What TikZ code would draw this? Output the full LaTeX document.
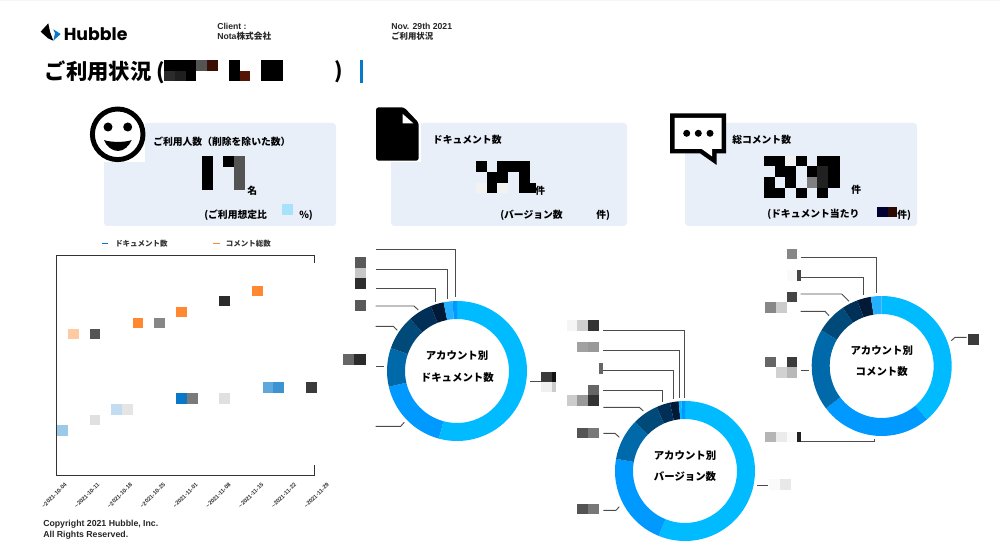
\documentclass[tikz,border=0pt]{standalone}
\usepackage{fontspec}
\setmainfont{Liberation Sans}
\newfontfamily\jpfont{Noto Sans CJK JP}
\newfontfamily\logofont{Poppins}
\usepackage{tikz}

\definecolor{cardblue}{HTML}{E8EFF9}
\definecolor{barblue}{HTML}{0A78C8}
\definecolor{ringa}{HTML}{00BBFF}
\definecolor{ringb}{HTML}{0099FF}
\definecolor{ringc}{HTML}{0069AA}
\definecolor{ringd}{HTML}{004A7A}
\definecolor{ringe}{HTML}{003058}
\definecolor{ringf}{HTML}{001A38}
\definecolor{ringg}{HTML}{22B0FF}
\definecolor{commorange}{HTML}{FF8830}
\definecolor{darkred}{HTML}{551505}

\tikzset{
	jptext/.style={font=\jpfont\bfseries\fontsize{7.35}{8}\selectfont, anchor=west, inner sep=0pt},
	latintext/.style={font=\bfseries\fontsize{6.5}{7}\selectfont, anchor=west, inner sep=0pt, text=black!85},
	ringtext/.style={font=\jpfont\bfseries\fontsize{7.8}{8}\selectfont, inner sep=0pt},
	legendtext/.style={font=\jpfont\bfseries\fontsize{5.6}{6}\selectfont, anchor=west, inner sep=0pt, text=black!80},
	datetext/.style={font=\bfseries\fontsize{4.3}{5}\selectfont, rotate=45, inner sep=0pt, text=black!80},
	leader/.style={draw=black!70, line width=0.7pt},
}

% x0 y0 x1 y1 colour
\newcommand{\mosaic}[5]{\fill[#5] (#1,#2) rectangle (#3,#4);}
% centre x, centre y, from, to (degrees from the top, clockwise), colour
\newcommand{\ringseg}[5]{
	\begin{scope}[shift={(#1,#2)}]
		\fill[#5] ({#3-90}:70) arc[start angle=#3-90, end angle=#4-90, radius=70]
			-- ({#4-90}:52) arc[start angle=#4-90, end angle=#3-90, radius=52] -- cycle;
	\end{scope}
}

\begin{document}
\begin{tikzpicture}[x=0.75pt, y=-0.75pt]
		
		\useasboundingbox (0,0) rectangle (1000,559);
		\fill[black!4] (0,0) rectangle (1000,1.5);
		
		%%% header
		\fill (40.7,31.7) -- (48.3,23.3) -- (50,31.7) -- (53.3,40.7) -- (48,38.3) -- cycle;
		\fill[barblue] (53.3,29.3) -- (60.7,34) -- (53.3,40.7) -- (55,33.3) -- cycle;
		\node[font=\logofont\bfseries\fontsize{13}{16}\selectfont, anchor=west, inner sep=0pt] (logotext) at (63.5,34) {Hubble};
		\node[latintext] (clientlabel) at (217,26.5) {Client :};
		\node[latintext] (clientname) at (217,36.5) {Nota{\jpfont\bfseries 株式会社}};
		\node[latintext] (datelabel) at (391,26.5) {Nov. 29th 2021};
		\node[latintext, font=\jpfont\bfseries\fontsize{6.3}{7}\selectfont] (datename) at (391,36.5) {ご利用状況};
		
		%%% title
		\node[jptext, font=\jpfont\bfseries\fontsize{16}{18}\selectfont] (pagetitle) at (44.5,72) {ご利用状況 (};
		\mosaic{164}{60}{196}{71}{black}
		\mosaic{196}{60}{207}{71}{black!67}
		\mosaic{207}{60}{218}{71}{darkred!70!black}
		\mosaic{164}{71}{175}{81}{black!83}
		\mosaic{175}{71}{185.5}{81}{black!88}
		\mosaic{185.5}{71}{196}{81}{black}
		\mosaic{229}{60}{239.5}{81}{black}
		\mosaic{239.5}{71}{250}{81}{darkred}
		\mosaic{261}{60}{283}{81}{black}
		\node[jptext, font=\jpfont\bfseries\fontsize{16}{18}\selectfont] (titleend) at (334,72) {)};
		\fill[barblue] (360,60) rectangle (362.5,83);
		
		%%% cards
		\fill[cardblue, rounded corners=2.5pt] (104,123) rectangle (336,226);
		\fill[cardblue, rounded corners=2.5pt] (391,123) rectangle (627,226);
		\fill[cardblue, rounded corners=2.5pt] (685,123) rectangle (917,226);
		
		%%% users
		\fill[white] (90,107) rectangle (145,162);
		\draw[line width=3.7pt] (117.7,134.3) circle (25.3);
		\fill (108,127) circle (4.5);
		\fill (127.7,127) circle (4.5);
		\fill (104,140) .. controls (110,142.5) and (126,142.5) .. (131.7,140)
			.. controls (129,146) and (124,151) .. (118,151)
			.. controls (112,151) and (106,146) .. (104,140);
		\node[jptext] (usertitle) at (153,142) {ご利用人数（削除を除いた数）};
		\mosaic{202}{156}{213}{190}{black}
		\mosaic{223}{156}{234}{167}{black}
		\mosaic{234}{156}{245}{190}{black!67}
		\node[jptext] (userunit) at (247,190.5) {名};
		\node[jptext] (userrate) at (204,215) {(ご利用想定比};
		\mosaic{282}{204}{293}{215}{cyan!35}
		\node[jptext] (userpercent) at (299,215) {\%)};
		
		%%% documents
		\fill[white] (376,107) rectangle (421,162);
		\fill[rounded corners=2pt] (404,107.3) -- (418.7,122.7) -- (418.7,160.7) -- (376,160.7) -- (376,107.3) -- cycle;
		\fill[white] (402.7,114) -- (413.3,123.3) -- (402.7,123.3) -- cycle;
		\node[jptext] (doctitle) at (432.7,140) {ドキュメント数};
		\mosaic{476}{161}{486.7}{171.7}{black}
		\mosaic{497.3}{161}{530}{171.7}{black}
		\mosaic{486.7}{171.7}{508}{182.7}{black}
		\mosaic{519.3}{171.7}{530}{182.7}{black}
		\mosaic{476}{182.7}{486.7}{193.3}{black!5}
		\mosaic{486.7}{182.7}{497.3}{193.3}{black}
		\mosaic{497.3}{182.7}{508}{193.3}{black!5}
		\mosaic{519.3}{182.7}{536}{193.3}{black}
		\node[jptext] (docunit) at (535,190.5) {件};
		\node[jptext] (docversion) at (500,215.5) {(バージョン数};
		\node[jptext] (docversionend) at (596,215.5) {件)};
		
		%%% comments
		\fill (670,113.3) -- (726,113.3) -- (726,153.3) -- (716.7,153.3) -- (716.7,165) -- (700,153.3) -- (670,153.3) -- cycle;
		\fill[white] (674.5,117.8) -- (721.5,117.8) -- (721.5,148.8) -- (712.2,148.8) -- (712.2,156.5) -- (701.5,148.8) -- (674.5,148.8) -- cycle;
		\fill (686.7,133.3) circle (3.5);
		\fill (698.3,133.3) circle (3.5);
		\fill (710,133.3) circle (3.5);
		\node[jptext] (commtitle) at (732,140) {総コメント数};
		\mosaic{764}{155.7}{785.3}{166}{black}
		\mosaic{785.3}{155.7}{796}{166}{black!5}
		\mosaic{796}{155.7}{806.7}{166}{black}
		\mosaic{817.3}{155.7}{840}{166}{black}
		\mosaic{774.7}{166}{796}{176.7}{black}
		\mosaic{806.7}{166}{817.3}{176.7}{black}
		\mosaic{817.3}{166}{828.3}{176.7}{black!87}
		\mosaic{828.3}{166}{840}{176.7}{black}
		\mosaic{764}{176.7}{774.7}{187.7}{black}
		\mosaic{785.3}{176.7}{796}{187.7}{black}
		\mosaic{806.7}{176.7}{817.3}{187.7}{black!50}
		\mosaic{817.3}{176.7}{828.3}{187.7}{black!87}
		\mosaic{828.3}{176.7}{840}{187.7}{black}
		\mosaic{764}{187.7}{785.3}{198.3}{black}
		\mosaic{796}{187.7}{806.7}{198.3}{black}
		\mosaic{817.3}{187.7}{828.3}{198.3}{black}
		\node[jptext] (communit) at (851,190) {件};
		\node[jptext] (commrate) at (767,214.5) {(ドキュメント当たり};
		\mosaic{877}{206.7}{888}{217}{blue!20!black}
		\mosaic{888}{206.7}{897}{217}{darkred!50!black}
		\node[jptext] (commrateend) at (897,215) {件)};
		
		%%% legend
		\fill[barblue] (101.7,243) rectangle (108,244.5);
		\node[legendtext] (legenddoc) at (115,243.7) {ドキュメント数};
		\fill[commorange] (213.3,243) rectangle (220,244.5);
		\node[legendtext] (legendcomm) at (225.7,243.7) {コメント総数};
		
		%%% chart
		\draw[black!80, line width=0.75pt] (314,263) -- (314,256) -- (56.7,256) -- (56.7,475.7) -- (314,475.7) -- (314,465);
		\mosaic{68}{328.7}{79}{338.7}{commorange!45}
		\mosaic{90}{328.7}{100.3}{338.7}{black!67}
		\mosaic{133}{317.7}{143.3}{328.3}{commorange}
		\mosaic{154.3}{317.7}{165}{328.3}{black!47}
		\mosaic{176}{306.7}{186.7}{317.3}{commorange}
		\mosaic{219.3}{296}{230}{306}{black!83}
		\mosaic{252}{285.7}{263}{295.7}{commorange}
		\mosaic{56.7}{425.3}{67.7}{436.3}{barblue!40}
		\mosaic{90}{415}{100}{425}{black!12}
		\mosaic{111}{404}{122}{415}{barblue!25}
		\mosaic{122}{404}{133}{415}{black!10}
		\mosaic{176}{393}{186.7}{404}{barblue}
		\mosaic{186.7}{393}{197.7}{404}{black!52}
		\mosaic{219.3}{393}{230}{404}{black!12}
		\mosaic{263}{382}{273.3}{392.7}{barblue!65}
		\mosaic{273.3}{382}{284}{392.7}{barblue!80}
		\mosaic{306}{382}{316.7}{392.7}{black!77}
		
		\node[datetext] (date1) at (54.2,495.5) {\textasciitilde 2021-10-04};
		\node[datetext] (date2) at (87,495.5) {\textasciitilde 2021-10-11};
		\node[datetext] (date3) at (119.8,495.5) {\textasciitilde 2021-10-18};
		\node[datetext] (date4) at (152.6,495.5) {\textasciitilde 2021-10-25};
		\node[datetext] (date5) at (185.4,495.5) {\textasciitilde 2021-11-01};
		\node[datetext] (date6) at (218.2,495.5) {\textasciitilde 2021-11-08};
		\node[datetext] (date7) at (251,495.5) {\textasciitilde 2021-11-15};
		\node[datetext] (date8) at (283.8,495.5) {\textasciitilde 2021-11-22};
		\node[datetext] (date9) at (316.6,495.5) {\textasciitilde 2021-11-29};
		
		\node[latintext, font=\bfseries\fontsize{6.55}{7}\selectfont] (copy1) at (43,524) {Copyright 2021 Hubble, Inc.};
		\node[latintext, font=\bfseries\fontsize{6.55}{7}\selectfont] (copy2) at (43,534.8) {All Rights Reserved.};
		
		%%% ring of documents
		\ringseg{457}{371}{0}{195}{ringa}
		\ringseg{457}{371}{195}{257}{ringb}
		\ringseg{457}{371}{257}{289}{ringc}
		\ringseg{457}{371}{289}{318}{ringd}
		\ringseg{457}{371}{318}{338}{ringe}
		\ringseg{457}{371}{338}{349}{ringf}
		\ringseg{457}{371}{349}{356.4}{ringg}
		\ringseg{457}{371}{356.4}{360}{ringb}
		\node[ringtext] (doca) at (457,356) {アカウント別};
		\node[ringtext] (docb) at (457.3,377.3) {ドキュメント数};
		
		\mosaic{354.7}{256.7}{365.7}{267.7}{black!65}
		\mosaic{354.7}{268}{365.7}{278.3}{black!22}
		\mosaic{354.7}{278.3}{365.7}{289}{black!82}
		\mosaic{354.7}{300}{365.7}{310.7}{black!65}
		\mosaic{343.3}{354}{354.3}{365}{black!60}
		\mosaic{354.3}{354}{365.7}{365}{black!83}
		\mosaic{541}{372}{551.7}{381.7}{black!77}
		\mosaic{551.7}{372}{555.7}{381.7}{black!93}
		\mosaic{541}{381.7}{551.7}{392}{black!6}
		\mosaic{551.7}{381.7}{555.7}{392}{black!20}
		
		\coordinate (da1) at (375.7,249.3);
		\coordinate (db1) at (455,297.3);
		\coordinate (da2) at (375.7,269);
		\coordinate (db2) at (447.7,299.3);
		\coordinate (da3) at (375.7,288.7);
		\coordinate (db3) at (435.7,301.7);
		\coordinate (da4) at (375.7,306);
		\coordinate (dm4) at (414,306);
		\coordinate (db4) at (418.3,310);
		\coordinate (da5) at (375.7,326.3);
		\coordinate (dm5) at (393.3,326.3);
		\coordinate (db5) at (397.3,330.3);
		\coordinate (da6) at (375.7,366.3);
		\coordinate (db6) at (384,366.3);
		\coordinate (da7) at (375.7,426.3);
		\coordinate (dm7) at (400.7,426.3);
		\coordinate (db7) at (404.3,422.3);
		\coordinate (da8) at (530,381);
		\coordinate (db8) at (541,381);
		\draw[leader] (da1) -| (db1);
		\draw[leader] (da2) -| (db2);
		\draw[leader] (da3) -| (db3);
		\draw[leader] (da4) -- (dm4) -- (db4);
		\draw[leader] (da5) -- (dm5) -- (db5);
		\draw[leader] (da6) -- (db6);
		\draw[leader] (da7) -- (dm7) -- (db7);
		\draw[leader] (da8) -- (db8);
		
		%%% ring of versions
		\ringseg{685}{471}{0}{202}{ringa}
		\ringseg{685}{471}{202}{280}{ringb}
		\ringseg{685}{471}{280}{314.6}{ringc}
		\ringseg{685}{471}{314.6}{336}{ringd}
		\ringseg{685}{471}{336}{347.5}{ringe}
		\ringseg{685}{471}{347.5}{354.8}{ringf}
		\ringseg{685}{471}{354.8}{357}{ringa}
		\ringseg{685}{471}{357}{360}{ringb}
		\node[ringtext] (vera) at (685,456) {アカウント別};
		\node[ringtext] (verb) at (685,476.7) {バージョン数};
		
		\mosaic{566.7}{320}{577.3}{330.7}{black!4}
		\mosaic{577.3}{320}{588}{330.7}{black!19}
		\mosaic{588}{320}{598.7}{330.7}{black!80}
		\mosaic{577.3}{342.3}{588}{352.3}{black!37}
		\mosaic{588}{342.3}{598.7}{352.3}{black!40}
		\mosaic{598.7}{363.3}{603}{374}{black!60}
		\mosaic{588}{385.3}{598.7}{395.5}{black!60}
		\mosaic{566.7}{395.5}{577.3}{406.3}{black!20}
		\mosaic{577.3}{395.5}{588}{406.3}{black!40}
		\mosaic{588}{395.5}{598.7}{406.3}{black!80}
		\mosaic{577.3}{427.7}{588}{438.3}{black!67}
		\mosaic{588}{427.7}{598.7}{438.3}{black!53}
		\mosaic{577.3}{504}{588}{514}{black!67}
		\mosaic{588}{504}{598.7}{514}{black!53}
		\mosaic{769.3}{479.3}{780}{490}{black!2}
		\mosaic{780}{479.3}{790.7}{490}{black!9}
		
		\coordinate (va1) at (603.3,330.7);
		\coordinate (vb1) at (684,397.7);
		\coordinate (va2) at (603.3,350.7);
		\coordinate (vb2) at (679.7,398.3);
		\coordinate (va3) at (603.3,370.3);
		\coordinate (vb3) at (673.3,399.3);
		\coordinate (va4) at (603.3,390);
		\coordinate (vb4) at (662,401.7);
		\coordinate (va5) at (603.3,407.3);
		\coordinate (vm5) at (639.3,407.3);
		\coordinate (vb5) at (643.3,411);
		\coordinate (va6) at (603.3,433.3);
		\coordinate (vm6) at (615,433.3);
		\coordinate (vb6) at (619.3,437.3);
		\coordinate (va7) at (603.3,510.3);
		\coordinate (vm7) at (616,510.3);
		\coordinate (vb7) at (619.3,506.7);
		\coordinate (va8) at (757.3,485.3);
		\coordinate (vb8) at (768.3,485.3);
		\draw[leader] (va1) -| (vb1);
		\draw[leader] (va2) -| (vb2);
		\draw[leader] (va3) -| (vb3);
		\draw[leader] (va4) -| (vb4);
		\draw[leader] (va5) -- (vm5) -- (vb5);
		\draw[leader] (va6) -- (vm6) -- (vb6);
		\draw[leader] (va7) -- (vm7) -- (vb7);
		\draw[leader] (va8) -- (vb8);
		
		%%% ring of comments
		\ringseg{881.7}{366}{0}{139.7}{ringa}
		\ringseg{881.7}{366}{139.7}{232.9}{ringb}
		\ringseg{881.7}{366}{232.9}{300.5}{ringc}
		\ringseg{881.7}{366}{300.5}{326.3}{ringd}
		\ringseg{881.7}{366}{326.3}{339.5}{ringe}
		\ringseg{881.7}{366}{339.5}{351}{ringf}
		\ringseg{881.7}{366}{351}{360}{ringg}
		\node[ringtext] (comma) at (881.7,351) {アカウント別};
		\node[ringtext] (commb) at (881.7,372) {コメント数};
		
		\mosaic{787.3}{249}{797.3}{259.3}{black!47}
		\mosaic{787.3}{270}{797.3}{280.7}{black!2}
		\mosaic{797.3}{270}{800.7}{280.7}{black!73}
		\mosaic{787.3}{292.3}{797.3}{302.3}{black!73}
		\mosaic{765}{302.3}{776}{313}{black!47}
		\mosaic{776}{302.3}{786.7}{313}{black!20}
		\mosaic{765}{356.7}{776}{367.3}{black!60}
		\mosaic{787.3}{356.7}{797.3}{367.3}{black!77}
		\mosaic{776}{367.3}{786.7}{378}{black!18}
		\mosaic{786.7}{367.3}{797.3}{378}{black!28}
		\mosaic{765}{431.7}{776}{442.3}{black!29}
		\mosaic{776}{431.7}{786.7}{442.3}{black!8}
		\mosaic{786.7}{431.7}{797.3}{442.3}{black!2}
		\mosaic{797.3}{431.7}{800.7}{442.3}{black!87}
		\mosaic{968}{334}{978.7}{344.7}{black!77}
		
		\coordinate (ca1) at (800.7,257.3);
		\coordinate (cb1) at (876.3,292.7);
		\coordinate (ca2) at (800.7,277.7);
		\coordinate (cb2) at (863.3,295);
		\coordinate (ca3) at (800.7,294);
		\coordinate (cm3) at (841.7,294);
		\coordinate (cb3) at (849,301.3);
		\coordinate (ca4) at (800.7,311.3);
		\coordinate (cm4) at (825,311.3);
		\coordinate (cb4) at (829,315.7);
		\coordinate (ca5) at (800.7,370);
		\coordinate (cb5) at (808.7,370);
		\coordinate (ca6) at (800.7,441.7);
		\coordinate (cb6) at (874.3,439);
		\coordinate (ca7) at (951.3,340.7);
		\coordinate (cm7) at (955,337.3);
		\coordinate (cb7) at (966.7,337.3);
		\draw[leader] (ca1) -| (cb1);
		\draw[leader] (ca2) -| (cb2);
		\draw[leader] (ca3) -- (cm3) -- (cb3);
		\draw[leader] (ca4) -- (cm4) -- (cb4);
		\draw[leader] (ca5) -- (cb5);
		\draw[leader] (ca6) -| (cb6);
		\draw[leader] (ca7) -- (cm7) -- (cb7);
		
	\end{tikzpicture}
\end{document}
